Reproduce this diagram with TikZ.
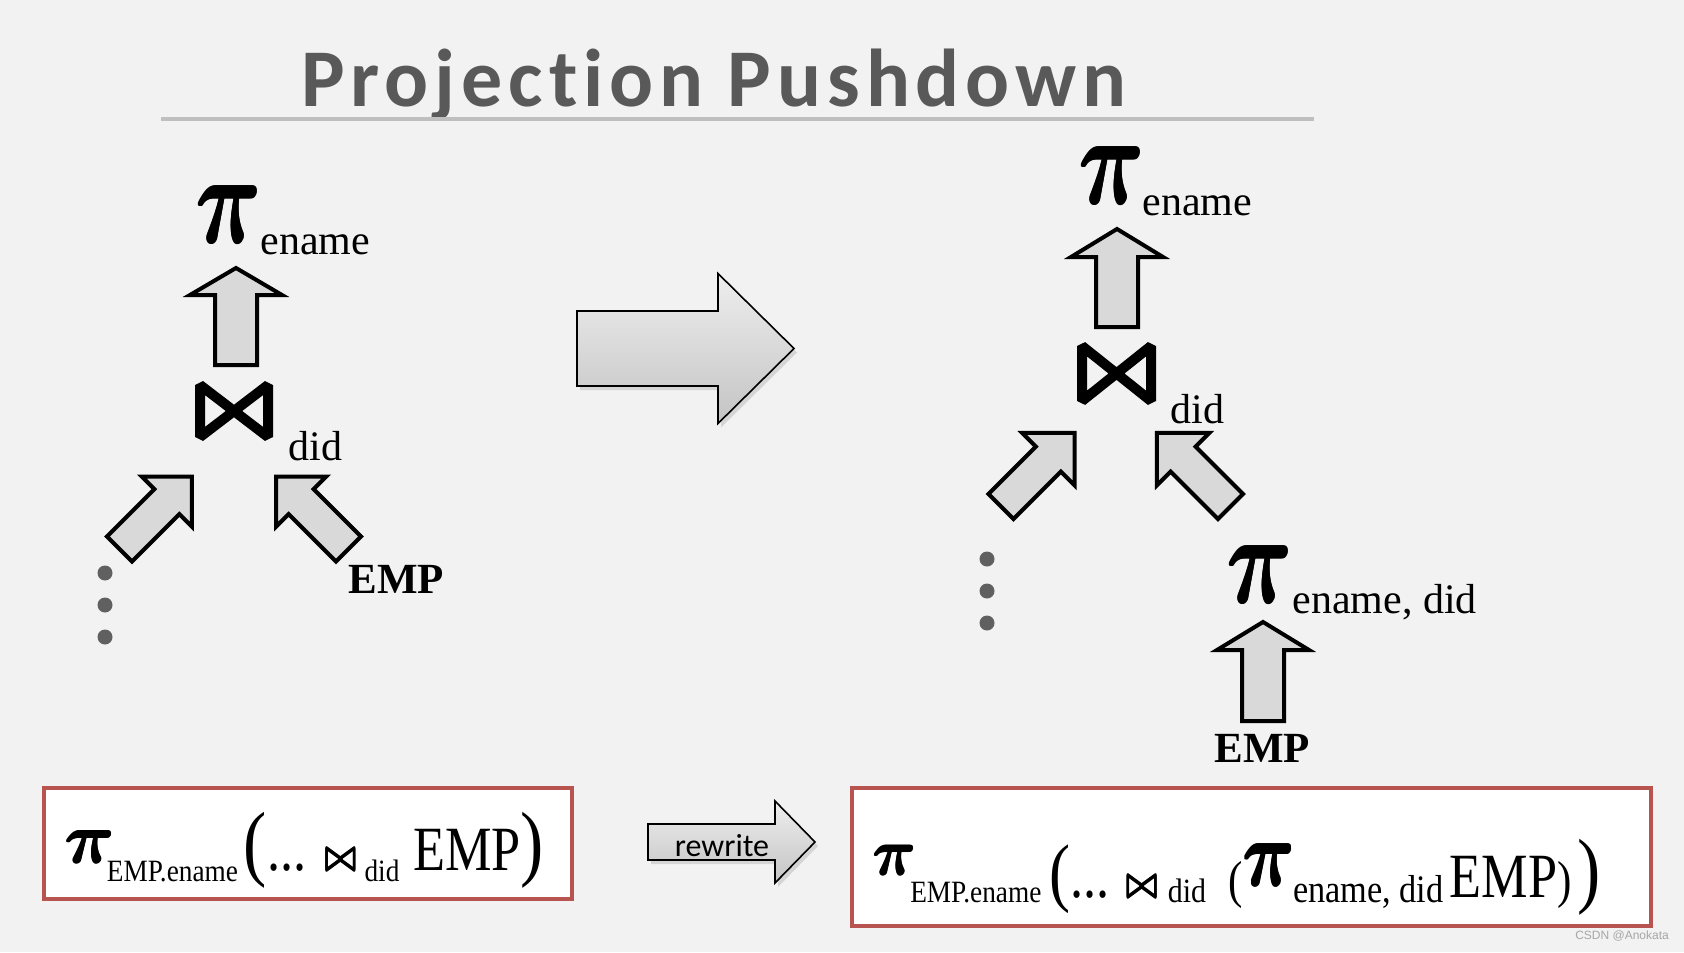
\documentclass[tikz,border=0pt]{standalone}
\usepackage{amsmath}
\usepackage{fontspec}
\setmainfont{Liberation Serif}
\newfontfamily\titlefont{Carlito}[LetterSpace=7.2, Ligatures={NoCommon}]
\newfontfamily\arrowfont{Carlito}
\newfontfamily\formfont{Liberation Serif}[FakeStretch=0.83]
\newfontfamily\subfont{Liberation Serif}[FakeStretch=0.88]
\newfontfamily\markfont{Liberation Sans}
\usetikzlibrary{shadows}

\definecolor{bg}{HTML}{F2F2F2}
\definecolor{titlegray}{HTML}{595959}
\definecolor{linegray}{HTML}{BFBFBF}
\definecolor{arrfill}{HTML}{D9D9D9}
\definecolor{boxred}{HTML}{B85450}
\definecolor{dotgray}{HTML}{606060}
\definecolor{gradtop}{HTML}{EEEEEE}
\definecolor{gradbot}{HTML}{C4C4C4}

% block arrow: #1 style, #2 tail centre, #3 angle, #4 length, #5 head length, #6 head half-width, #7 shaft half-width
\newcommand\blockarrow[7]{%
  \path[#1, shift={(#2)}, rotate=#3]
    (0,-#7) -- ({#4-#5},-#7) -- ({#4-#5},-#6) -- (#4,0) -- ({#4-#5},#6) -- ({#4-#5},#7) -- (0,#7) -- cycle;}

% heavy pi (overprinted bold math pi at 10pt)
\newcommand\hpi{{\fontsize{10}{12}\selectfont
  \rlap{$\boldsymbol{\pi}$}\rlap{\raisebox{0.12pt}{$\boldsymbol{\pi}$}}\kern0.12pt\rlap{$\boldsymbol{\pi}$}\raisebox{0.12pt}{$\boldsymbol{\pi}$}}}
\newcommand\hbow{{\fontsize{10}{12}\selectfont
  \rlap{\boldmath$\bowtie$}\rlap{\raisebox{0.18pt}{\boldmath$\bowtie$}}\kern0.18pt\rlap{\boldmath$\bowtie$}\raisebox{0.18pt}{\boldmath$\bowtie$}}}
\newcommand\bigpi{\scalebox{4.55}[6.4]{\hpi}}
% formula parts
\newcommand\spi[3]{\raisebox{#1}{\scalebox{#2}[#3]{\hpi}}}
\newcommand\fsub[3]{\raisebox{#1}{\subfont\fontsize{#2}{#2}\selectfont #3}}
\newcommand\fparen[2]{{\formfont\fontsize{#1}{#1}\selectfont #2}}
\newcommand\fbow{\scalebox{1.65}[2.1]{\hbow}}

\tikzset{
  treearrow/.style={draw=black, fill=arrfill, line width=2pt, line join=miter},
  shadedarrow/.style={draw=black, line width=0.8pt, line join=miter,
    top color=gradtop, bottom color=gradbot,
    drop shadow={shadow xshift=1.5pt, shadow yshift=-2pt, opacity=0.25}},
  lbl/.style={inner sep=0pt, anchor=base west, font=\fontsize{21}{21}\selectfont},
  rel/.style={inner sep=0pt, anchor=base west, font=\bfseries\fontsize{21.5}{21.5}\selectfont},
  pinode/.style={inner sep=0pt, anchor=south west},
  bowtie/.style={draw=black, line width=5pt, line join=bevel},
  dot/.style={fill=dotgray},
  formbox/.style={draw=boxred, fill=white, line width=2pt},
  formula/.style={inner sep=0pt, anchor=base west, font=\formfont\fontsize{31.5}{31.5}\selectfont},
}

\begin{document}
\begin{tikzpicture}[x=0.5pt, y=-0.5pt]
\useasboundingbox (0,0) rectangle (1684,952);
\fill[bg] (0,0) rectangle (1684,952);

% title
\node[inner sep=0pt, anchor=base west, text=titlegray] (title) at (301,107)
  {\titlefont\bfseries\fontsize{41}{41}\selectfont Projection Pushdown};
\coordinate (ulA) at (161,119);
\coordinate (ulB) at (1314,119);
\draw[linegray, line width=2pt] (ulA) -- (ulB);

% ---------- left tree ----------
\node[pinode] (lpi) at (195,244) {\bigpi};
\node[lbl] (lename) at (260,254) {ename};
\coordinate (lup) at (236,365);
\blockarrow{treearrow}{lup}{90}{97}{27}{46}{21}
\draw[bowtie] (200,385) -- (268,437) -- (268,385) -- (200,437) -- cycle;
\node[lbl] (ldid) at (288,460) {did};
\coordinate (lla) at (119.5,549);
\blockarrow{treearrow}{lla}{45}{102.5}{35.5}{35.5}{17.7}
\coordinate (lra) at (348.5,549);
\blockarrow{treearrow}{lra}{135}{102.5}{35.5}{35.5}{17.7}
\node[rel] (lemp) at (348,593) {EMP};
\fill[dot] (105,573) circle (7.5) (105,605) circle (7.5) (105,637) circle (7.5);

% big arrow
\coordinate (big) at (577,348.5);
\blockarrow{shadedarrow}{big}{0}{217}{76}{75}{37.5}

% ---------- right tree ----------
\node[pinode] (rpi) at (1078,205) {\bigpi};
\node[lbl] (rename) at (1142,215) {ename};
\coordinate (rup) at (1117,327);
\blockarrow{treearrow}{rup}{90}{98}{28}{46}{21}
\draw[bowtie] (1082,346) -- (1151,401) -- (1151,346) -- (1082,401) -- cycle;
\node[lbl] (rdid) at (1170,423) {did};
\coordinate (rla) at (1001,506.5);
\blockarrow{treearrow}{rla}{45}{104}{37}{37}{17.7}
\coordinate (rra) at (1230.5,506.5);
\blockarrow{treearrow}{rra}{135}{104}{37}{37}{17.7}
\fill[dot] (987,559) circle (7.5) (987,591) circle (7.5) (987,623) circle (7.5);
\node[pinode] (rpi2) at (1226,604) {\bigpi};
\node[lbl] (renamedid) at (1292,613) {ename, did};
\coordinate (rup2) at (1263,721);
\blockarrow{treearrow}{rup2}{90}{99}{28}{46}{21}
\node[rel] (remp) at (1214,762) {EMP};

% ---------- formulas ----------
\draw[formbox] (44,788) rectangle (572,899);
\node[formula] (lform) at (64,870)
  {\spi{3.3pt}{3.45}{3.6}\hspace{-4pt}\fsub{-5.5pt}{15.5}{EMP.ename}\hspace{3pt}\fparen{42}{(}...\hspace{9pt}\fbow\hspace{4pt}\fsub{-5.5pt}{15.5}{did}\hspace{7pt}EMP\fparen{42}{)}};

\coordinate (rw) at (648,842);
\blockarrow{shadedarrow}{rw}{0}{167}{40}{41}{18}
\node[inner sep=0pt, font=\arrowfont\fontsize{16}{16}\selectfont] (rwtext) at (722,846) {rewrite};

\draw[formbox] (852,788) rectangle (1651,926);
\node[formula] (rform) at (872,897)
  {\spi{11pt}{3.0}{3.3}\hspace{-3pt}\fsub{-2.5pt}{15.5}{EMP.ename}\hspace{4pt}\fparen{38}{(}...\hspace{8pt}\fbow\hspace{5pt}\fsub{-2.5pt}{17}{did}\hspace{11pt}\fparen{26}{(}\spi{5.5pt}{3.6}{4.6}\hspace{-1pt}\fsub{-2.5pt}{19.5}{ename, did}\hspace{3pt}EMP\fparen{26}{)}\hspace{3pt}\fparen{42}{)}};

\node[inner sep=0pt, text=gray!70, font=\markfont\fontsize{6}{6}\selectfont] (mark) at (1622,936) {CSDN @Anokata};
\end{tikzpicture}
\end{document}
